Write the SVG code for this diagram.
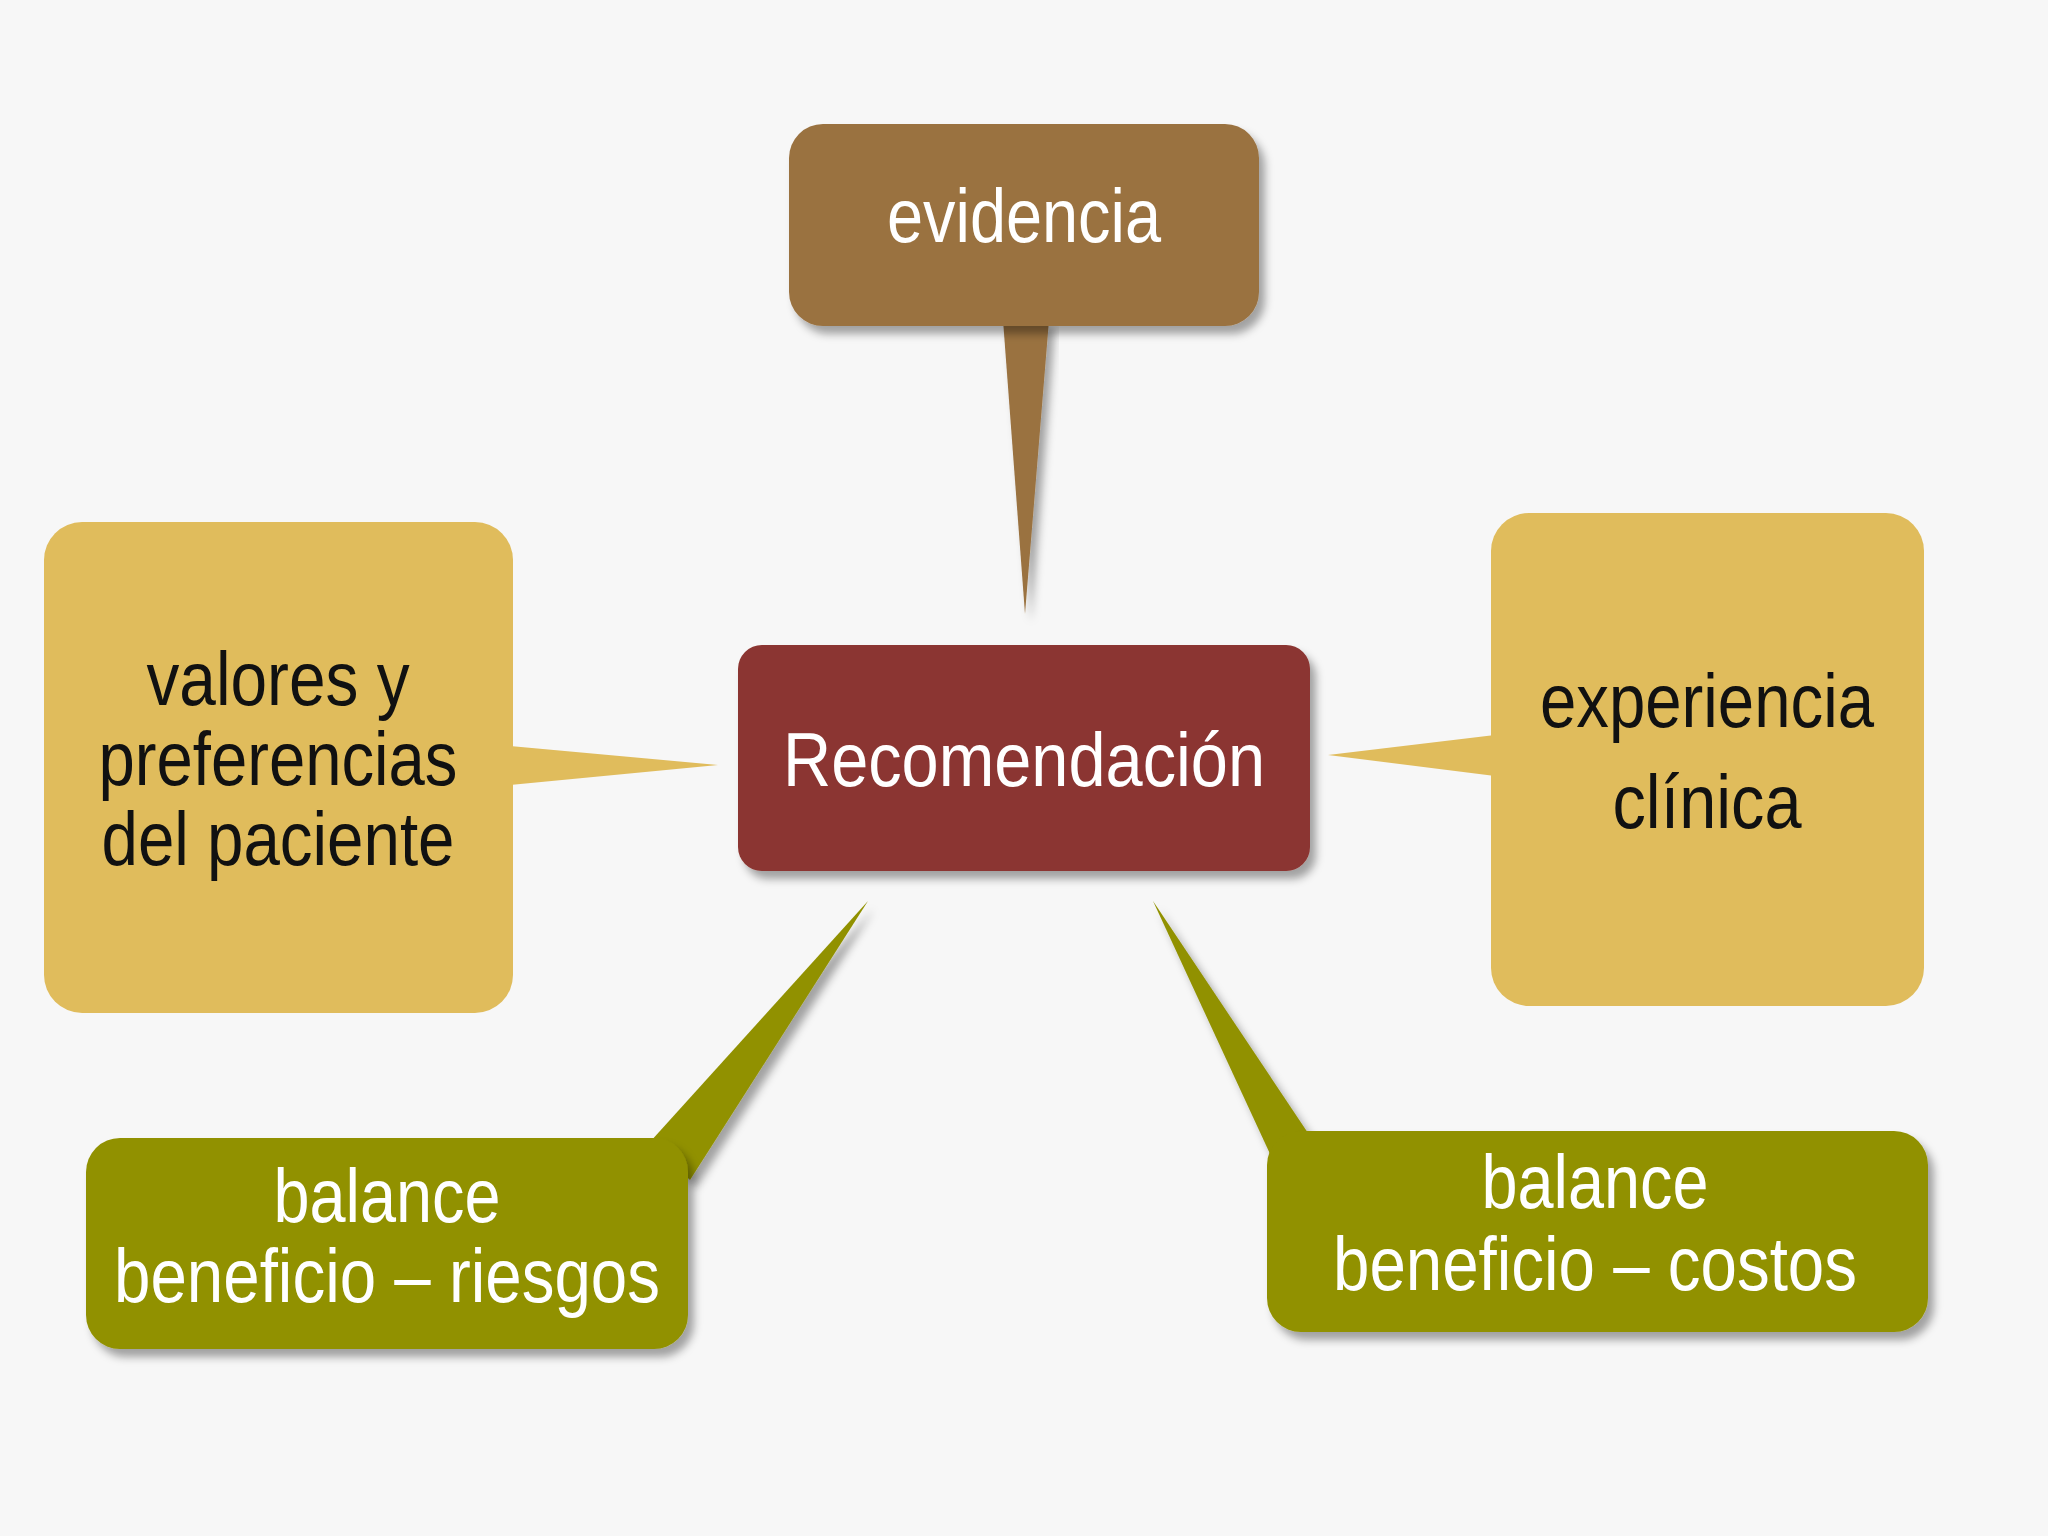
<svg xmlns="http://www.w3.org/2000/svg" width="2048" height="1536" viewBox="0 0 2048 1536">
<defs>
<style>
text{font-family:"Liberation Sans","DejaVu Sans",sans-serif;font-size:76px;text-anchor:middle}
.w{fill:#fff}.d{fill:#111}
.ev{fill:#9A7240}.ye{fill:#E0BC5C}.ol{fill:#919100}.re{fill:#8B3530}
</style>
<filter id="sh" x="-10%" y="-10%" width="130%" height="130%"><feDropShadow dx="6" dy="8" stdDeviation="4" flood-color="#000" flood-opacity="0.35"/></filter>
</defs>
<rect width="2048" height="1536" fill="#F7F7F7"/>
<g id="connectors">
<polygon class="ev" points="1003,320 1049,320 1025,614" filter="url(#sh)"/>
<polygon class="ye" points="510,746 510,785 718,765"/>
<polygon class="ye" points="1495,735 1495,776 1328,755"/>
<polygon class="ol" points="650,1142 690,1180 868,901" filter="url(#sh)"/>
<polygon class="ol" points="1271,1156 1310,1136 1153,901" filter="url(#sh)"/>
</g>
<g id="evidencia"><rect class="ev" x="789" y="124" width="470" height="202" rx="34" filter="url(#sh)"/><text class="w" x="1024" y="242" textLength="274" lengthAdjust="spacingAndGlyphs">evidencia</text></g>
<g id="recomendacion"><rect class="re" x="738" y="645" width="572" height="226" rx="24" filter="url(#sh)"/><text class="w" x="1024" y="786" textLength="482" lengthAdjust="spacingAndGlyphs">Recomendación</text></g>
<g id="valores"><rect class="ye" x="44" y="522" width="469" height="491" rx="38"/><text class="d" x="278" y="705" textLength="263" lengthAdjust="spacingAndGlyphs">valores y</text><text class="d" x="278" y="785" textLength="359" lengthAdjust="spacingAndGlyphs">preferencias</text><text class="d" x="278" y="865" textLength="353" lengthAdjust="spacingAndGlyphs">del paciente</text></g>
<g id="experiencia"><rect class="ye" x="1491" y="513" width="433" height="493" rx="38"/><text class="d" x="1707" y="727" textLength="334" lengthAdjust="spacingAndGlyphs">experiencia</text><text class="d" x="1707" y="828" textLength="189" lengthAdjust="spacingAndGlyphs">clínica</text></g>
<g id="riesgos"><rect class="ol" x="86" y="1138" width="602" height="211" rx="34" filter="url(#sh)"/><text class="w" x="387" y="1222" textLength="227" lengthAdjust="spacingAndGlyphs">balance</text><text class="w" x="387" y="1302" textLength="546" lengthAdjust="spacingAndGlyphs">beneficio – riesgos</text></g>
<g id="costos"><rect class="ol" x="1267" y="1131" width="661" height="201" rx="34" filter="url(#sh)"/><text class="w" x="1595" y="1208" textLength="227" lengthAdjust="spacingAndGlyphs">balance</text><text class="w" x="1595" y="1290" textLength="524" lengthAdjust="spacingAndGlyphs">beneficio – costos</text></g>
</svg>
